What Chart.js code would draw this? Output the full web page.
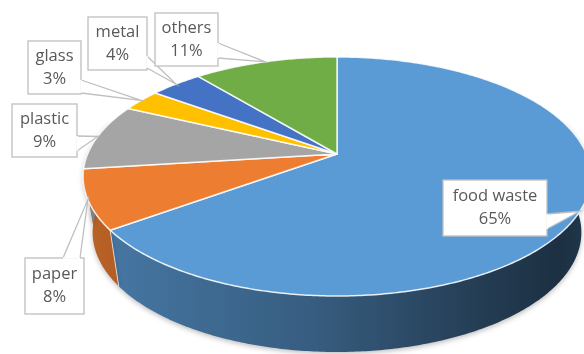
<!DOCTYPE html>
<html lang="en">
<head>
  <meta charset="UTF-8">
  <title>Waste composition</title>
  <script src="https://cdn.jsdelivr.net/npm/chart.js"></script>
  <style>
    html, body { margin: 0; padding: 0; background: #ffffff; }
    canvas { display: block; }
  </style>
</head>
<body>
  <canvas id="pie" width="584" height="354"></canvas>

  <script>
    const categories = ['food waste', 'paper', 'plastic', 'glass', 'metal', 'others'];
    const shares = [65, 8, 9, 3, 4, 11];
    const sliceColors = ['#5b9bd5', '#ed7d31', '#a5a5a5', '#ffc000', '#4472c4', '#70ad47'];

    // callout boxes [left, top, right, bottom] and where the pointer leaves each box
    const calloutBoxes = [
      [443, 180, 547, 236],
      [25, 258, 84, 314],
      [12, 104, 77, 157],
      [28, 41, 81, 94],
      [88, 17, 147, 70],
      [155, 13, 218, 66]
    ];
    const pointerBases = [
      [547, 214, 547, 229],
      [63, 258, 80, 258],
      [77, 136, 77, 151],
      [81, 80, 81, 93],
      [147, 56, 147, 68],
      [218, 43, 218, 58]
    ];

    // tilted pie geometry (perspective view of a disc with some thickness)
    const CX = 337;
    const PERSP = 0.188;
    const TOP = { cy: 154, rx: 249.4, ry: 115.3 };
    const BOTTOM = { cy: 210, rx: 240, ry: 115.3 };

    // shading of the side wall from left to right: [position, brightness]
    const wallShade = [[0, 0.8], [0.06, 0.76], [0.45, 0.6], [0.8, 0.38], [0.93, 0.31], [1, 0.36]];

    const project = (angle, face) => {
      const u = Math.cos(angle), v = Math.sin(angle);
      const d = 1 - PERSP * v;
      return [CX + face.rx * u / d, face.cy + face.ry * v / d];
    };

    const hexToRgb = (hex) => {
      const n = parseInt(hex.slice(1), 16);
      return [(n >> 16) & 255, (n >> 8) & 255, n & 255];
    };

    const arcPath = (ctx, a, b, face, first) => {
      const steps = Math.max(2, Math.ceil(Math.abs(b - a) * 90));
      for (let i = 0; i <= steps; i++) {
        const p = project(a + (b - a) * i / steps, face);
        if (first && i === 0) ctx.moveTo(p[0], p[1]);
        else ctx.lineTo(p[0], p[1]);
      }
    };

    // Draws the pie's arcs as a 3D disc using the angles Chart.js computed
    const pie3d = {
      id: 'pie3d',
      beforeDatasetsDraw(chart) {
        const ctx = chart.ctx;
        const arcs = chart.getDatasetMeta(0).data;
        const lo = -0.3, hi = Math.PI + 0.3;

        // side walls (the top face is painted over their hidden part)
        arcs.forEach((arc, i) => {
          const a = Math.max(arc.startAngle, lo);
          const b = Math.min(arc.endAngle, hi);
          if (a >= b) return;
          const rgb = hexToRgb(sliceColors[i]);
          const grad = ctx.createLinearGradient(CX - TOP.rx - 8, 0, CX + TOP.rx + 8, 0);
          wallShade.forEach(([pos, k]) => {
            grad.addColorStop(pos, `rgb(${Math.round(rgb[0] * k)},${Math.round(rgb[1] * k)},${Math.round(rgb[2] * k)})`);
          });
          ctx.save();
          ctx.beginPath();
          arcPath(ctx, a, b, TOP, true);
          arcPath(ctx, b, a, BOTTOM, false);
          ctx.closePath();
          ctx.shadowColor = 'rgba(0,0,0,0.25)';
          ctx.shadowBlur = 5;
          ctx.shadowOffsetY = 2;
          ctx.fillStyle = grad;
          ctx.fill();
          ctx.restore();
          // light seam where two walls meet
          if (arc.startAngle > 0.3 && arc.startAngle < Math.PI - 0.3) {
            const p0 = project(arc.startAngle, TOP), p1 = project(arc.startAngle, BOTTOM);
            ctx.save();
            ctx.strokeStyle = 'rgba(255,255,255,0.7)';
            ctx.lineWidth = 1;
            ctx.beginPath();
            ctx.moveTo(p0[0], p0[1]);
            ctx.lineTo(p1[0], p1[1]);
            ctx.stroke();
            ctx.restore();
          }
        });

        // top face
        arcs.forEach((arc, i) => {
          ctx.save();
          ctx.beginPath();
          ctx.moveTo(CX, TOP.cy);
          arcPath(ctx, arc.startAngle, arc.endAngle, TOP, false);
          ctx.closePath();
          ctx.fillStyle = sliceColors[i];
          ctx.fill();
          ctx.lineJoin = 'round';
          ctx.lineWidth = 1.5;
          ctx.strokeStyle = 'rgba(255,255,255,0.85)';
          ctx.stroke();
          ctx.restore();
        });
        return false;
      },

      // callout labels pointing at the middle of each slice rim
      afterDraw(chart) {
        const ctx = chart.ctx;
        const arcs = chart.getDatasetMeta(0).data;
        arcs.forEach((arc, i) => {
          const [l, t, r, b] = calloutBoxes[i];
          const [x1, y1, x2, y2] = pointerBases[i];
          const tip = project((arc.startAngle + arc.endAngle) / 2, TOP);
          ctx.save();
          ctx.lineWidth = 1.3;
          ctx.strokeStyle = '#bfbfbf';
          ctx.fillStyle = '#ffffff';

          ctx.fillRect(l, t, r - l, b - t);
          ctx.strokeRect(l, t, r - l, b - t);

          ctx.beginPath();
          ctx.moveTo(x1, y1);
          ctx.lineTo(tip[0], tip[1]);
          ctx.lineTo(x2, y2);
          ctx.closePath();
          ctx.fill();
          ctx.beginPath();
          ctx.moveTo(x1, y1);
          ctx.lineTo(tip[0], tip[1]);
          ctx.lineTo(x2, y2);
          ctx.stroke();

          // open the box outline where the pointer joins it
          ctx.beginPath();
          ctx.moveTo(x1, y1);
          ctx.lineTo(x2, y2);
          ctx.strokeStyle = '#ffffff';
          ctx.lineWidth = 1.6;
          ctx.stroke();

          ctx.fillStyle = '#595959';
          ctx.font = '16.5px "Open Sans", sans-serif';
          ctx.textAlign = 'center';
          ctx.textBaseline = 'middle';
          const mx = (l + r) / 2, my = (t + b) / 2;
          ctx.fillText(categories[i], mx, my - 11.5);
          ctx.fillText(shares[i] + '%', mx, my + 11.5);
          ctx.restore();
        });
      }
    };

    new Chart(document.getElementById('pie'), {
      type: 'pie',
      data: {
        labels: categories,
        datasets: [{
          data: shares,
          backgroundColor: sliceColors,
          borderColor: '#ffffff'
        }]
      },
      options: {
        responsive: false,
        animation: false,
        events: [],
        plugins: {
          legend: { display: false },
          tooltip: { enabled: false }
        }
      },
      plugins: [pie3d]
    });
  </script>
</body>
</html>
